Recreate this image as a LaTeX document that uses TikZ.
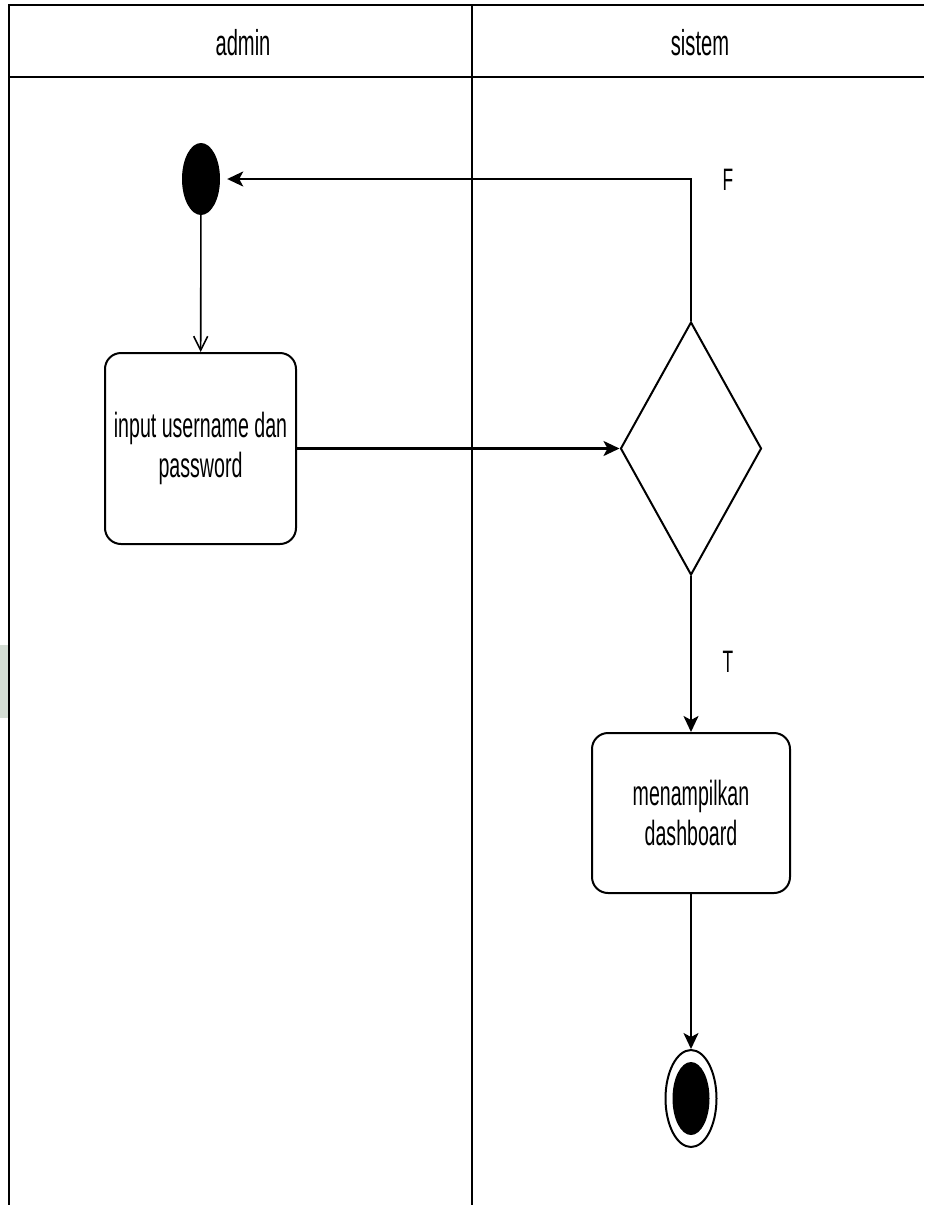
\documentclass[tikz,border=0pt]{standalone}
\usepackage{fontspec}
\setmainfont[FakeStretch=0.56]{Liberation Sans}
\usetikzlibrary{shapes.geometric,arrows.meta}
\definecolor{margintint}{RGB}{212,221,212}

\begin{document}
\begin{tikzpicture}[x=1pt,y=-1pt,
  frameline/.style={line width=2.2pt, black},
  lanetitle/.style={font=\fontsize{36}{40}\selectfont, inner sep=0pt},
  action/.style={draw, line width=2pt, rounded corners=16pt, align=center,
    inner sep=0pt, font=\fontsize{35}{40}\selectfont},
  startdot/.style={ellipse, fill=black, inner sep=0pt,
    minimum width=38pt, minimum height=72pt},
  enddot/.style={ellipse, draw, line width=2pt, inner sep=0pt,
    minimum width=51pt, minimum height=97pt},
  endcore/.style={ellipse, fill=black, inner sep=0pt,
    minimum width=37pt, minimum height=73pt},
  decision/.style={diamond, draw, line width=2pt, inner sep=0pt,
    minimum width=141pt, minimum height=253pt},
  flow/.style={line width=2.2pt, -{Stealth[length=16pt, width=15pt, inset=4pt]}},
  openflow/.style={line width=1.6pt, -{Straight Barb[length=14pt, width=14pt]}},
  guard/.style={font=\fontsize{31}{36}\selectfont, inner sep=0pt}
]
\useasboundingbox (0,0) rectangle (924,1205);
\fill[white] (0,0) rectangle (924,1205);

% tinted patch at the left margin
\fill[margintint] (0,645) rectangle (9,718);

% swimlane frame
\coordinate (tl) at (9,5);
\coordinate (tr) at (924,5);
\coordinate (bl) at (9,1205);
\coordinate (hl) at (9,77);
\coordinate (hr) at (924,77);
\coordinate (dtop) at (472,5);
\coordinate (dbot) at (472,1205);
\draw[frameline] (bl) -- (tl) -- (tr);
\draw[frameline] (hl) -- (hr);
\draw[line width=2pt] (dtop) -- (dbot);

\node[lanetitle] (laneA) at (243,43) {admin};
\node[lanetitle] (laneB) at (700,43) {sistem};

% activity nodes
\node[startdot] (start) at (201,179) {};
\node[action, minimum width=191pt, minimum height=191pt] (input) at (200.5,448.5)
  {input username dan\\password};
\node[decision] (dec) at (691,448.5) {};
\node[action, minimum width=198pt, minimum height=160pt] (dash) at (691,813)
  {menampilkan\\dashboard};
\node[enddot] (end) at (691,1098.5) {};
\node[endcore] (endc) at (end.center) {};

% guard labels
\node[guard] (gF) at (728,180) {F};
\node[guard] (gT) at (728,662) {T};

% transitions
\draw[openflow] (start) -- (input);
\draw[flow] (input) -- (dec);
\draw[flow, shorten >=7pt] (dec.north) |- (start);
\draw[flow] (dec) -- (dash);
\draw[flow] (dash) -- (end);
\end{tikzpicture}
\end{document}
